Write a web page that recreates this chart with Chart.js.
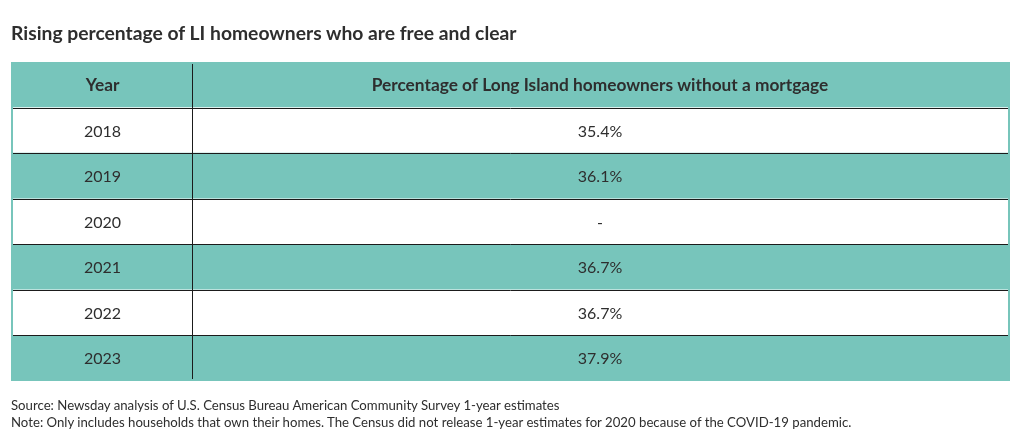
<!DOCTYPE html>
<html>
<head>
<meta charset="utf-8">
<script src="https://cdn.jsdelivr.net/npm/chart.js@4.4.1/dist/chart.umd.min.js"></script>
<style>
  html, body { margin: 0; padding: 0; background: #ffffff; }
  #wrap { position: relative; width: 1020px; height: 442px; overflow: hidden; font-family: Lato, "Noto Sans", sans-serif; color: #2e2e2e; }
  #title { position: absolute; left: 11px; top: 21px; font-size: 19.3px; line-height: 24px; font-weight: 700; white-space: nowrap; }
  #notes { position: absolute; left: 11px; top: 397px; font-size: 13.2px; line-height: 17px; white-space: nowrap; }
  canvas { position: absolute; left: 0; top: 0; }
</style>
</head>
<body>
<div id="wrap">
  <canvas id="c" width="1020" height="442"></canvas>
  <div id="title">Rising percentage of LI homeowners who are free and clear</div>
  <div id="notes">
    <div>Source: Newsday analysis of U.S. Census Bureau American Community Survey 1-year estimates</div>
    <div>Note: Only includes households that own their homes. The Census did not release 1-year estimates for 2020 because of the COVID-19 pandemic.</div>
  </div>
</div>
<script>
// ---- Data ----
const columnHeaders = ['Year', 'Percentage of Long Island homeowners without a mortgage'];
const years = ['2018', '2019', '2020', '2021', '2022', '2023'];
const shares = [35.4, 36.1, null, 36.7, 36.7, 37.9];

// ---- Styles / layout constants ----
const TEAL = '#77c5bb';
const WHITE = '#ffffff';
const TEXT = '#2e2e2e';
const LINE = '#1b1b1b';
const SPLIT = 0.1812;     // column boundary on the 0..1 x scale
const INSET = 2;          // teal frame around white cells

const rowLabels = [columnHeaders[0]].concat(years);
const rowColors = rowLabels.map((_, i) => (i % 2 === 0 ? TEAL : WHITE));
const cellText = [[columnHeaders[0], columnHeaders[1]]].concat(
  years.map((y, i) => [y, shares[i] == null ? '-' : shares[i].toFixed(1) + '%'])
);

const tablePlugin = {
  id: 'tablePlugin',
  beforeDatasetsDraw(chart) {
    const { ctx, chartArea: a } = chart;
    ctx.save();
    ctx.fillStyle = TEAL;
    ctx.fillRect(a.left, a.top, a.right - a.left, a.bottom - a.top);
    ctx.restore();
  },
  afterDatasetsDraw(chart) {
    const { ctx, chartArea: a, scales } = chart;
    const xs = scales.x, ys = scales.y;
    ctx.save();
    // teal frame on left/right
    ctx.fillStyle = TEAL;
    ctx.fillRect(a.left, a.top, INSET, a.bottom - a.top);
    ctx.fillRect(a.right - INSET, a.top, INSET, a.bottom - a.top);
    // horizontal row lines
    ctx.strokeStyle = LINE;
    ctx.lineWidth = 1;
    for (let i = 0; i < rowLabels.length - 1; i++) {
      const yb = Math.round((ys.getPixelForValue(i) + ys.getPixelForValue(i + 1)) / 2) + 0.5;
      ctx.beginPath();
      ctx.moveTo(a.left + INSET, yb);
      ctx.lineTo(a.right - INSET, yb);
      ctx.stroke();
    }
    // vertical column line
    const xv = Math.round(xs.getPixelForValue(SPLIT)) + 0.5;
    ctx.beginPath();
    ctx.moveTo(xv, a.top + INSET);
    ctx.lineTo(xv, a.bottom - INSET);
    ctx.stroke();
    // texts
    const c1 = (a.left + INSET + xs.getPixelForValue(SPLIT)) / 2;
    const c2 = (xs.getPixelForValue(SPLIT) + a.right - INSET) / 2;
    ctx.fillStyle = TEXT;
    ctx.textAlign = 'center';
    ctx.textBaseline = 'middle';
    cellText.forEach((row, i) => {
      const yc = ys.getPixelForValue(i) + 1;
      ctx.font = (i === 0 ? '700 17.3px ' : '400 16px ') + 'Lato, "Noto Sans", sans-serif';
      ctx.fillText(row[0], c1, yc);
      ctx.fillText(row[1], c2, yc);
    });
    ctx.restore();
  }
};

new Chart(document.getElementById('c'), {
  type: 'bar',
  data: {
    labels: rowLabels,
    datasets: [
      { label: columnHeaders[0], data: rowLabels.map(() => [0, SPLIT]), backgroundColor: rowColors, grouped: false },
      { label: columnHeaders[1], data: rowLabels.map(() => [SPLIT, 1]), backgroundColor: rowColors, grouped: false }
    ]
  },
  options: {
    indexAxis: 'y',
    responsive: false,
    devicePixelRatio: 1,
    animation: false,
    layout: { padding: { left: 11, right: 10, top: 62, bottom: 61 } },
    datasets: { bar: { barPercentage: 1, categoryPercentage: 1, borderWidth: 0 } },
    scales: {
      x: { type: 'linear', min: 0, max: 1, display: false },
      y: { type: 'category', display: false }
    },
    plugins: { legend: { display: false }, tooltip: { enabled: false }, title: { display: false } }
  },
  plugins: [tablePlugin]
});
</script>
</body>
</html>
